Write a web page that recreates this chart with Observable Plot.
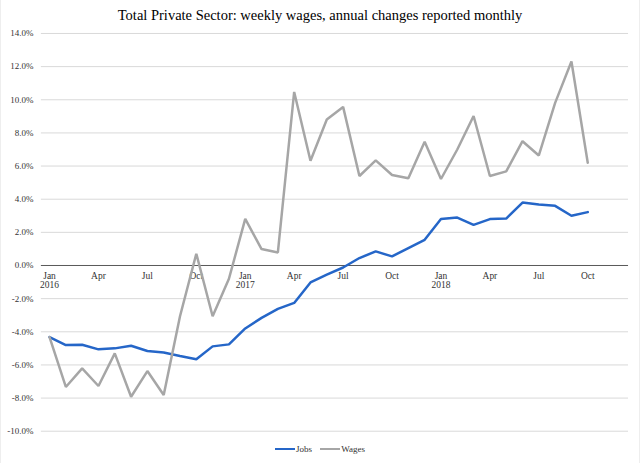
<!DOCTYPE html>
<html>
<head>
<meta charset="utf-8">
<script src="https://cdn.jsdelivr.net/npm/d3@7"></script>
<script src="https://cdn.jsdelivr.net/npm/@observablehq/plot@0.6"></script>
<style>
  html, body { margin: 0; padding: 0; background: #fff; }
  #wrap { width: 638px; height: 463px; border-left: 1px solid #eee; border-right: 1px solid #eee; font-family: "Liberation Serif", serif; }
  #title { height: 26px; line-height: 30px; text-align: center; font-size: 14.5px; color: #000; white-space: nowrap; }
  #legend { display: flex; justify-content: center; align-items: center; height: 20px; font-size: 9px; color: #333; }
  .sw { display: inline-block; width: 20px; height: 2px; margin-right: 1px; }
  .item { display: flex; align-items: center; margin: 0 4px; }
  #chart svg text { font-family: "Liberation Serif", serif !important; }
</style>
</head>
<body>
<div id="wrap">
  <div id="title">Total Private Sector: weekly wages, annual changes reported monthly</div>
  <div id="chart"></div>
  <div id="legend"></div>
</div>
<script>
// Monthly, Jan 2016 .. Oct 2018 (index 0 = Jan 2016); axis spans Jan 2016 .. Dec 2018
const seriesNames = ["Jobs", "Wages"];
const seriesColors = ["#2566c8", "#a6a6a6"];
const jobs = [-4.32, -4.80, -4.78, -5.06, -5.00, -4.84, -5.16, -5.25, -5.46, -5.66,
              -4.88, -4.76, -3.80, -3.16, -2.62, -2.26, -1.02, -0.55, -0.12, 0.45,
              0.85, 0.55, 1.05, 1.55, 2.80, 2.89, 2.45, 2.80, 2.83, 3.80,
              3.68, 3.60, 3.00, 3.22];
const wages = [-4.32, -7.33, -6.21, -7.27, -5.30, -7.92, -6.37, -7.81, -3.06, 0.71,
               -3.06, -0.80, 2.81, 0.99, 0.79, 10.47, 6.32, 8.81, 9.57, 5.40,
               6.34, 5.46, 5.26, 7.46, 5.22, 7.00, 9.02, 5.40, 5.68, 7.50,
               6.64, 9.81, 12.31, 6.20];
const totalMonths = 36;
const tickIdx = [0, 3, 6, 9, 12, 15, 18, 21, 24, 27, 30, 33];
const tickLabels = ["Jan\n2016", "Apr", "Jul", "Oct", "Jan\n2017", "Apr", "Jul", "Oct", "Jan\n2018", "Apr", "Jul", "Oct"];
const yTicks = [-10, -8, -6, -4, -2, 0, 2, 4, 6, 8, 10, 12, 14];

const rows = [];
jobs.forEach((v, i) => rows.push({i, v, s: seriesNames[0]}));
wages.forEach((v, i) => rows.push({i, v, s: seriesNames[1]}));
const xLab = tickIdx.map((i, k) => ({i, label: tickLabels[k]}));

const chart = Plot.plot({
  width: 640,
  height: 414,
  marginLeft: 40,
  marginRight: 11,
  marginTop: 7,
  marginBottom: 8,
  style: {fontFamily: "'Liberation Serif', serif", fontSize: "9px", color: "#333", background: "#fff"},
  x: {domain: [-0.5, totalMonths - 0.5], axis: null},
  y: {domain: [-10, 14], axis: null},
  color: {domain: seriesNames, range: seriesColors},
  marks: [
    Plot.ruleY(yTicks.filter(d => d !== 0), {stroke: "#d9d9d9", strokeWidth: 1}),
    Plot.axisY(yTicks, {label: null, tickSize: 0, tickPadding: 8, tickFormat: d => d.toFixed(1) + "%", fill: "#333", fontSize: 9, fontVariant: "normal"}),
    Plot.ruleY([0], {stroke: "#595959", strokeWidth: 1}),
    Plot.text(xLab, {x: "i", y: 0, text: "label", lineAnchor: "top", dy: 6, fontSize: 9.5, lineHeight: 1.05, fill: "#333"}),
    Plot.line(rows, {x: "i", y: "v", z: "s", stroke: "s", strokeWidth: 2.5, strokeLinejoin: "miter"})
  ]
});
document.getElementById("chart").appendChild(chart);

const lg = document.getElementById("legend");
seriesNames.forEach((n, k) => {
  const it = document.createElement("span");
  it.className = "item";
  const sw = document.createElement("span");
  sw.className = "sw";
  sw.style.background = seriesColors[k];
  it.appendChild(sw);
  it.appendChild(document.createTextNode(n));
  lg.appendChild(it);
});
</script>
</body>
</html>
